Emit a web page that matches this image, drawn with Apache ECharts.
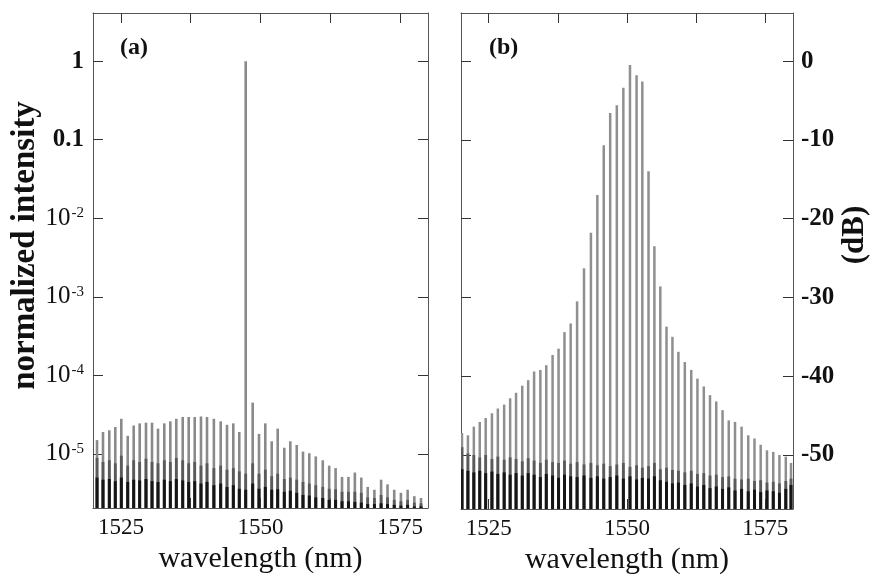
<!DOCTYPE html>
<html><head><meta charset="utf-8">
<script src="https://cdn.jsdelivr.net/npm/echarts@6/dist/echarts.min.js"></script>
<style>html,body{margin:0;padding:0;background:#fff}#c{width:871px;height:581px}</style>
</head><body><div id="c"></div>
<script>
// ---------- data: panel (a), normalized intensity (log scale) ----------
const wavelengthsA = [1520.72,1521.79,1522.92,1523.99,1525.07,1526.22,1527.29,1528.36,1529.49,1530.57,
  1531.64,1532.77,1533.85,1534.92,1536.07,1537.14,1538.22,1539.34,1540.42,1541.65,
  1542.87,1544.00,1545.13,1546.20,1547.35,1548.60,1549.73,1550.86,1552.01,1553.08,
  1554.26,1555.34,1556.49,1557.61,1558.74,1559.90,1561.15,1562.30,1563.45,1564.60,
  1565.75,1566.90,1568.05,1569.20,1570.40,1571.60,1572.75,1573.95,1575.15,1576.35,
  1577.55,1578.75];
const intensityTopA = [1.5e-5,1.9e-5,2.0e-5,2.2e-5,2.8e-5,1.7e-5,2.3e-5,2.45e-5,2.5e-5,2.5e-5,
  2.1e-5,2.45e-5,2.6e-5,2.8e-5,2.95e-5,2.95e-5,2.95e-5,3.0e-5,2.95e-5,2.8e-5,
  2.6e-5,2.35e-5,2.45e-5,1.9e-5,1.0,4.5e-5,1.8e-5,2.45e-5,1.45e-5,2.1e-5,
  1.2e-5,1.45e-5,1.3e-5,1.07e-5,1.02e-5,9.3e-6,8.3e-6,7.1e-6,6.6e-6,5.1e-6,
  5.1e-6,5.8e-6,5.0e-6,3.8e-6,3.5e-6,4.7e-6,4.1e-6,3.5e-6,3.2e-6,3.5e-6,
  2.9e-6,2.75e-6];
const intensityMidA = [8.9e-6,7.9e-6,8.3e-6,7.6e-6,9.5e-6,7.1e-6,8.3e-6,7.9e-6,8.7e-6,7.9e-6,
  7.6e-6,8.3e-6,7.9e-6,8.9e-6,8.3e-6,7.6e-6,7.9e-6,7.1e-6,7.6e-6,6.6e-6,
  7.1e-6,6.3e-6,6.6e-6,6.0e-6,5.6e-6,7.6e-6,5.6e-6,6.3e-6,5.2e-6,5.6e-6,
  4.8e-6,5.0e-6,4.7e-6,4.4e-6,4.2e-6,4.0e-6,3.8e-6,3.6e-6,3.55e-6,3.3e-6,
  3.3e-6,3.3e-6,3.2e-6,2.8e-6,2.75e-6,3.0e-6,2.8e-6,2.6e-6,2.5e-6,2.6e-6,
  2.4e-6,2.35e-6];
const intensityLowA = [5.0e-6,4.7e-6,4.8e-6,4.5e-6,5.0e-6,4.4e-6,4.7e-6,4.6e-6,4.8e-6,4.5e-6,
  4.4e-6,4.7e-6,4.5e-6,4.8e-6,4.6e-6,4.4e-6,4.5e-6,4.2e-6,4.4e-6,4.0e-6,
  4.2e-6,3.8e-6,4.0e-6,3.6e-6,3.5e-6,4.2e-6,3.6e-6,3.8e-6,3.5e-6,3.55e-6,
  3.3e-6,3.4e-6,3.2e-6,3.0e-6,2.95e-6,2.8e-6,2.75e-6,2.6e-6,2.6e-6,2.5e-6,
  2.5e-6,2.45e-6,2.4e-6,2.3e-6,2.3e-6,2.35e-6,2.3e-6,2.25e-6,2.2e-6,2.25e-6,
  2.15e-6,2.15e-6];

// ---------- data: panel (b), dB ----------
const wavelengthsB = [1520.18,1521.25,1522.32,1523.39,1524.46,1525.59,1526.66,1527.80,1528.88,1529.95,
  1531.07,1532.14,1533.21,1534.34,1535.41,1536.55,1537.63,1538.70,1539.82,1540.98,
  1542.23,1543.48,1544.64,1545.80,1546.96,1548.16,1549.34,1550.54,1551.73,1552.77,
  1553.89,1554.95,1556.02,1557.14,1558.21,1559.29,1560.45,1561.61,1562.73,1563.88,
  1565.00,1566.13,1567.27,1568.39,1569.52,1570.71,1571.91,1573.04,1574.16,1575.30,
  1576.43,1577.55,1578.70,1579.64];
const dbTopB = [-47.2,-47.5,-46.4,-45.8,-45.3,-44.7,-44.1,-43.6,-42.8,-42.1,
  -41.2,-40.5,-39.4,-39.2,-38.6,-37.3,-36.5,-34.4,-33.3,-30.5,
  -26.3,-21.8,-17.0,-10.7,-6.6,-5.6,-3.4,-0.5,-1.8,-2.6,
  -14.0,-23.5,-28.6,-33.7,-35.0,-36.9,-38.2,-39.2,-40.3,-41.3,
  -42.4,-43.2,-44.3,-45.6,-45.8,-46.4,-47.5,-47.9,-48.7,-49.4,
  -49.6,-50.0,-50.2,-51.0];
const dbMidB = [-49.0,-49.8,-50.0,-50.3,-50.0,-50.5,-50.2,-50.6,-50.3,-50.5,
  -50.8,-50.4,-50.7,-51.0,-50.6,-50.9,-51.0,-50.7,-51.1,-50.9,
  -51.2,-51.0,-51.3,-51.1,-51.4,-51.2,-51.0,-51.5,-51.3,-51.6,
  -51.4,-51.0,-51.8,-51.6,-51.9,-52.0,-52.2,-52.0,-52.4,-52.3,
  -52.6,-52.5,-52.8,-52.7,-53.0,-53.1,-53.0,-53.3,-53.2,-53.5,
  -53.4,-53.6,-53.3,-53.0];
const dbLowB = [-51.8,-52.0,-52.2,-52.0,-52.3,-52.1,-52.4,-52.2,-52.5,-52.3,
  -52.6,-52.3,-52.5,-52.8,-52.4,-52.6,-52.9,-52.5,-52.7,-52.8,
  -52.6,-52.9,-52.7,-53.0,-52.8,-52.6,-53.0,-52.7,-53.1,-52.9,
  -53.0,-52.7,-53.2,-53.4,-53.6,-53.5,-53.8,-53.6,-54.0,-53.8,
  -54.2,-54.0,-54.3,-54.1,-54.5,-54.3,-54.6,-54.4,-54.7,-54.5,
  -54.6,-54.8,-54.3,-53.8];

// ---------- ticks ----------
const xTickValues = [1525, 1537.5, 1550, 1562.5, 1575];
const xLabelValues = [1525, 1550, 1575];
const yTickValuesA = [1e-5, 1e-4, 1e-3, 1e-2, 0.1, 1];
const yTickValuesB = [-50, -40, -30, -20, -10, 0];

const FONT = '"Liberation Serif", "Times New Roman", serif';

function zip(xs, ys) { return xs.map((x, i) => [x, ys[i]]); }

function lineRender(color, width) {
  return function (params, api) {
    const p = api.coord([api.value(0), api.value(1)]);
    const cs = params.coordSys;
    const yb = cs.y + cs.height;
    return {
      type: 'line',
      shape: { x1: p[0], y1: yb, x2: p[0], y2: Math.max(p[1], cs.y) },
      style: { stroke: color, lineWidth: width }
    };
  };
}

function xAxisCfg(grid, pos, showLabels) {
  return {
    type: 'value', gridIndex: grid, position: pos, min: 1520, max: 1580,
    axisLine: { show: true, onZero: false, lineStyle: { color: '#555', width: 1 } },
    axisTick: { show: true, inside: true, length: 10, customValues: xTickValues, lineStyle: { color: '#333' } },
    axisLabel: showLabels ? {
      show: true, customValues: xLabelValues, margin: 8,
      formatter: function (v) { return String(v); },
      fontFamily: FONT, fontSize: 23, color: '#111'
    } : { show: false },
    splitLine: { show: false },
    name: showLabels ? 'wavelength (nm)' : '',
    nameLocation: 'middle', nameGap: 34,
    nameTextStyle: { fontFamily: FONT, fontSize: 30, color: '#111' }
  };
}

const chart = echarts.init(document.getElementById('c'), null, { renderer: 'canvas' });
chart.setOption({
  backgroundColor: '#fff',
  animation: false,
  grid: [
    { left: 93, top: 13, width: 335, height: 495 },
    { left: 461, top: 13, width: 336, height: 496 }
  ],
  xAxis: [
    xAxisCfg(0, 'bottom', true),
    xAxisCfg(0, 'top', false),
    xAxisCfg(1, 'bottom', true),
    xAxisCfg(1, 'top', false)
  ],
  yAxis: [
    {
      type: 'log', gridIndex: 0, position: 'left', min: 2.05e-6, max: 4.1, logBase: 10,
      axisLine: { show: true, onZero: false, lineStyle: { color: '#555' } },
      axisTick: { show: true, inside: true, length: 10, customValues: yTickValuesA, lineStyle: { color: '#333' } },
      axisLabel: {
        show: true, customValues: yTickValuesA, margin: 9, color: '#111',
        formatter: function (v) {
          const n = Math.round(Math.log10(v));
          if (n === 0) return '{b|1}';
          if (n === -1) return '{b|0.1}';
          return '{m|10}{s|' + n + '}';
        },
        rich: {
          b: { fontFamily: FONT, fontSize: 25, fontWeight: 'bold', color: '#111' },
          m: { fontFamily: FONT, fontSize: 25, color: '#111', verticalAlign: 'bottom' },
          s: { fontFamily: FONT, fontSize: 15, color: '#111', verticalAlign: 'top', padding: [0, 0, 0, 1] }
        }
      },
      splitLine: { show: false },
      name: 'normalized intensity', nameLocation: 'middle', nameGap: 44, nameRotate: 90,
      nameTextStyle: { fontFamily: FONT, fontSize: 33, fontWeight: 'bold', color: '#111', padding: [0, 0, 0, 30] }
    },
    {
      type: 'log', gridIndex: 0, position: 'right', min: 2.05e-6, max: 4.1, logBase: 10,
      axisLine: { show: true, onZero: false, lineStyle: { color: '#555' } },
      axisTick: { show: true, inside: true, length: 10, customValues: yTickValuesA, lineStyle: { color: '#333' } },
      axisLabel: { show: false }, splitLine: { show: false }
    },
    {
      type: 'value', gridIndex: 1, position: 'left', min: -56.85, max: 6.1,
      axisLine: { show: true, onZero: false, lineStyle: { color: '#555' } },
      axisTick: { show: true, inside: true, length: 10, customValues: yTickValuesB, lineStyle: { color: '#333' } },
      axisLabel: { show: false }, splitLine: { show: false }
    },
    {
      type: 'value', gridIndex: 1, position: 'right', min: -56.85, max: 6.1,
      axisLine: { show: true, onZero: false, lineStyle: { color: '#555' } },
      axisTick: { show: true, inside: true, length: 10, customValues: yTickValuesB, lineStyle: { color: '#333' } },
      axisLabel: {
        show: true, customValues: yTickValuesB, margin: 8,
        fontFamily: FONT, fontSize: 25, fontWeight: 'bold', color: '#111'
      },
      splitLine: { show: false },
      name: '(dB)', nameLocation: 'middle', nameGap: 46, nameRotate: 90,
      nameTextStyle: { fontFamily: FONT, fontSize: 31, fontWeight: 'bold', color: '#111', padding: [0, 0, 0, 52] }
    }
  ],
  graphic: [
    { type: 'text', left: 120, top: 36, style: { text: '(a)', font: 'bold 24px ' + FONT, fill: '#111' } },
    { type: 'text', left: 489, top: 36, style: { text: '(b)', font: 'bold 24px ' + FONT, fill: '#111' } }
  ],
  series: [
    { type: 'custom', xAxisIndex: 0, yAxisIndex: 0, clip: true, renderItem: lineRender('#8a8a8a', 2.6),
      encode: { x: 0, y: 1 }, data: zip(wavelengthsA, intensityTopA) },
    { type: 'custom', xAxisIndex: 0, yAxisIndex: 0, clip: true, renderItem: lineRender('#5a5a5a', 2.8),
      encode: { x: 0, y: 1 }, data: zip(wavelengthsA, intensityMidA) },
    { type: 'custom', xAxisIndex: 0, yAxisIndex: 0, clip: true, renderItem: lineRender('#151515', 3),
      encode: { x: 0, y: 1 }, data: zip(wavelengthsA, intensityLowA) },
    { type: 'custom', xAxisIndex: 2, yAxisIndex: 2, clip: true, renderItem: lineRender('#8f8f8f', 2.5),
      encode: { x: 0, y: 1 }, data: zip(wavelengthsB, dbTopB) },
    { type: 'custom', xAxisIndex: 2, yAxisIndex: 2, clip: true, renderItem: lineRender('#5a5a5a', 2.8),
      encode: { x: 0, y: 1 }, data: zip(wavelengthsB, dbMidB) },
    { type: 'custom', xAxisIndex: 2, yAxisIndex: 2, clip: true, renderItem: lineRender('#151515', 3),
      encode: { x: 0, y: 1 }, data: zip(wavelengthsB, dbLowB) }
  ]
});
</script>
</body></html>
